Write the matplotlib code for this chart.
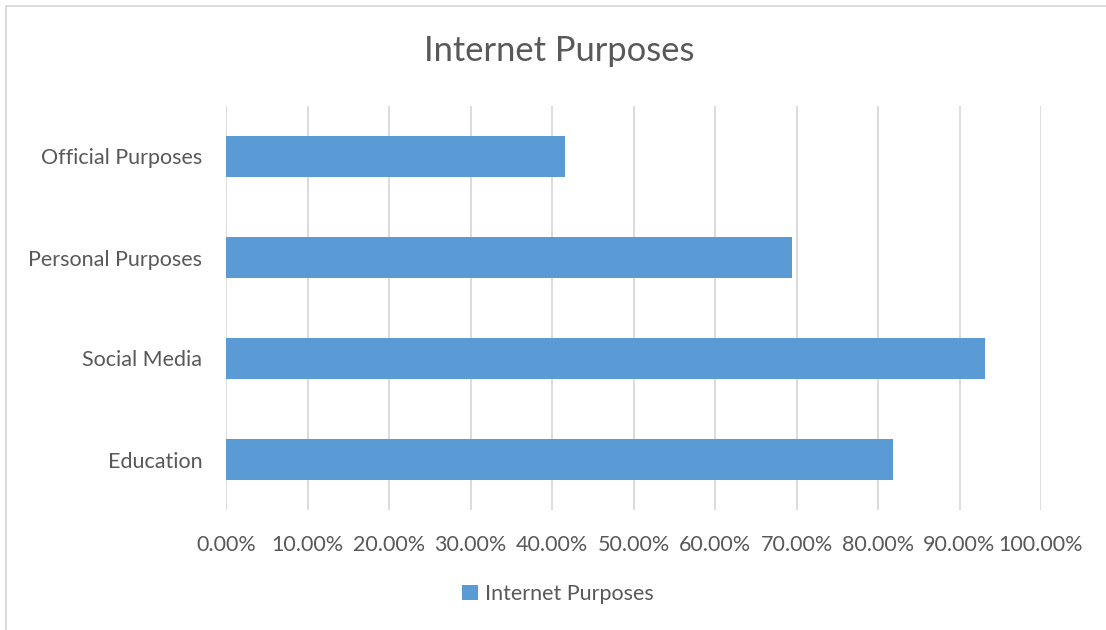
import matplotlib
matplotlib.use("Agg")
from matplotlib import pyplot as plt
from matplotlib.patches import Rectangle
from matplotlib.ticker import FuncFormatter, MultipleLocator

categories = ["Education", "Social Media", "Personal Purposes", "Official Purposes"]
values = [0.819, 0.931, 0.694, 0.416]
series_name = "Internet Purposes"

bar_color = "#5b9bd5"
text_color = "#595959"
grid_color = "#d9d9d9"

plt.rcParams['font.family'] = ['Lato', 'DejaVu Sans']

fig = plt.figure(figsize=(11.06, 6.30), dpi=100)
ax = fig.add_axes([226 / 1106, 120 / 630, 815 / 1106, 404 / 630])

ax.barh(range(len(categories)), values, height=0.4, color=bar_color,
        label=series_name, zorder=3)

ax.set_xlim(0, 1.0)
ax.set_ylim(-0.5, len(categories) - 0.5)
ax.xaxis.set_major_locator(MultipleLocator(0.1))
ax.xaxis.set_major_formatter(FuncFormatter(lambda v, p: f"{v * 100:.2f}%"))
ax.set_yticks(range(len(categories)))
ax.set_yticklabels(categories)

ax.grid(axis='x', color=grid_color, linewidth=1.3, zorder=0)
for s in ax.spines.values():
    s.set_visible(False)
ax.tick_params(axis='both', length=0, labelsize=15.5, colors=text_color)
ax.tick_params(axis='x', pad=18)
ax.tick_params(axis='y', pad=17)

fig.suptitle(series_name, y=1 - 51 / 630, x=559 / 1106, va='center',
             fontsize=24.8, color=text_color)

leg = fig.legend(loc='center', bbox_to_anchor=(558 / 1106, 1 - 594 / 630),
                 frameon=False, fontsize=15.5, handlelength=0.75,
                 handleheight=0.75, handletextpad=0.3)
for t in leg.get_texts():
    t.set_color(text_color)

# chart border (only top and left edges visible)
fig.patches.append(Rectangle((6 / 1106, -0.1), 1.2, 1.1 - 6 / 630,
                             transform=fig.transFigure, fill=False,
                             edgecolor=grid_color, linewidth=1.3))

fig.savefig("out.png", dpi=100)
